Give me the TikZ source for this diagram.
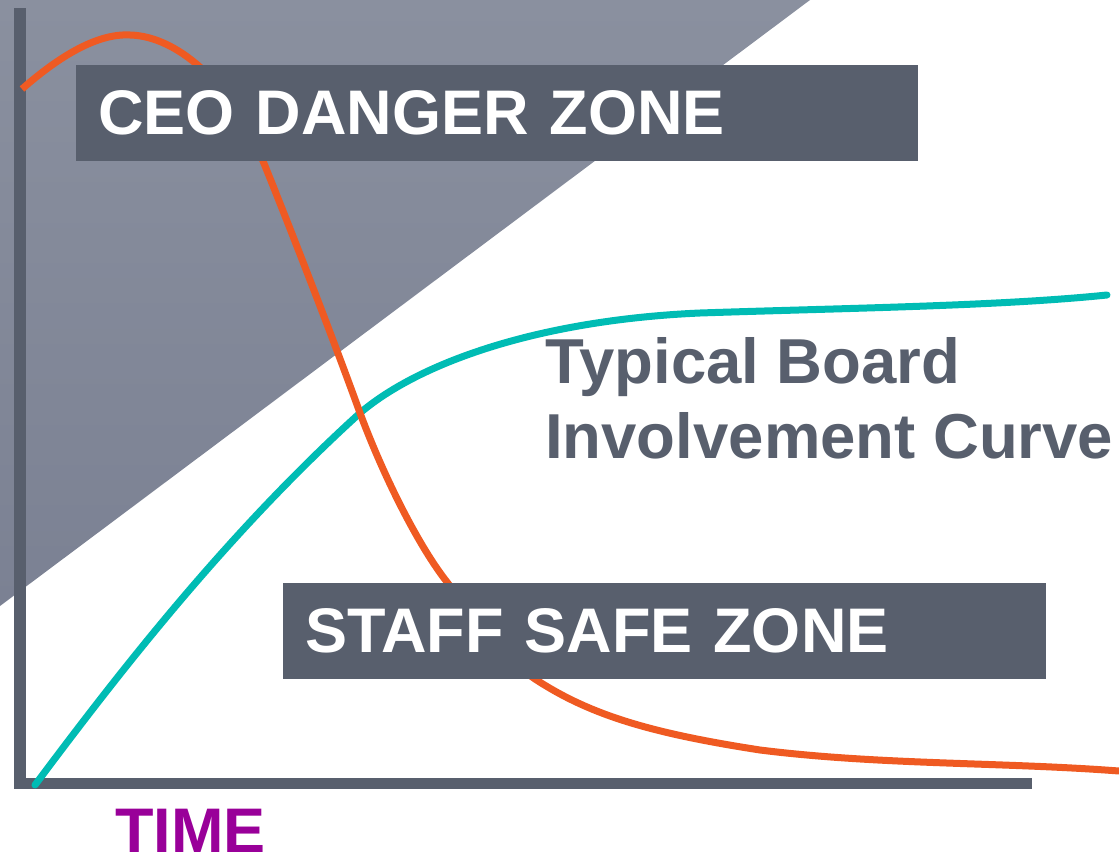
\documentclass[tikz,border=0pt]{standalone}
\usepackage{fontspec}
\setmainfont{Liberation Sans}
\definecolor{slate}{HTML}{585F6D}
\definecolor{zonelight}{HTML}{8A909F}
\definecolor{zonedark}{HTML}{7B8193}
\definecolor{ceoorange}{HTML}{EF5A22}
\definecolor{boardteal}{HTML}{00BCB4}
\definecolor{timepurple}{HTML}{990099}
\begin{document}
\begin{tikzpicture}[x=1pt,y=-1pt,
  zonebox/.style={fill=slate, text=white, inner ysep=0pt, inner xsep=22pt,
    minimum height=96pt, anchor=north west, align=left,
    font=\fontsize{63}{70}\selectfont\bfseries},
  axisbar/.style={fill=slate},
  curveline/.style={line width=7pt},
  graytext/.style={text=slate, inner sep=0pt, font=\fontsize{63.5}{75}\selectfont\bfseries}
]
\useasboundingbox (0,0) rectangle (1119,859);

% shaded danger region above the diagonal
\shade[top color=zonelight, bottom color=zonedark] (0,0) -- (810,0) -- (0,606) -- cycle;

% axes
\fill[axisbar] (14,8) rectangle (26,789);
\fill[axisbar] (14,778) rectangle (1032,789);

% board involvement curve
\draw[boardteal, curveline, line cap=round]
  (35,785) .. controls (110,685) and (220,540) .. (360,413)
           .. controls (420,362) and (540,320) .. (700,313)
           .. controls (850,308) and (1000,306) .. (1107,295);

% CEO influence curve
\draw[ceoorange, curveline]
  (22,89)   .. controls (55,60) and (95,33) .. (130,35)
            .. controls (175,36) and (230,80) .. (263,161)
            .. controls (285,215) and (330,330) .. (360,413)
            .. controls (385,480) and (420,548) .. (447,582)
            .. controls (475,620) and (500,655) .. (535,679)
            .. controls (590,715) and (650,733) .. (760,750)
            .. controls (880,765) and (1000,762) .. (1119,771);

% zone labels
\node[zonebox, minimum width=842pt, text width=798pt] (ceo) at (76,65) {CEO DANGER ZONE};
\node[zonebox, minimum width=763pt, text width=719pt] (staff) at (283,583) {STAFF SAFE ZONE};

% curve caption and axis label
\node[graytext, anchor=north west, align=left] (board) at (545,337) {Typical Board\\Involvement Curve};
\node[graytext, text=timepurple, font=\fontsize{63}{75}\selectfont\bfseries, anchor=base west] (time) at (115,852) {TIME};
\end{tikzpicture}
\end{document}
